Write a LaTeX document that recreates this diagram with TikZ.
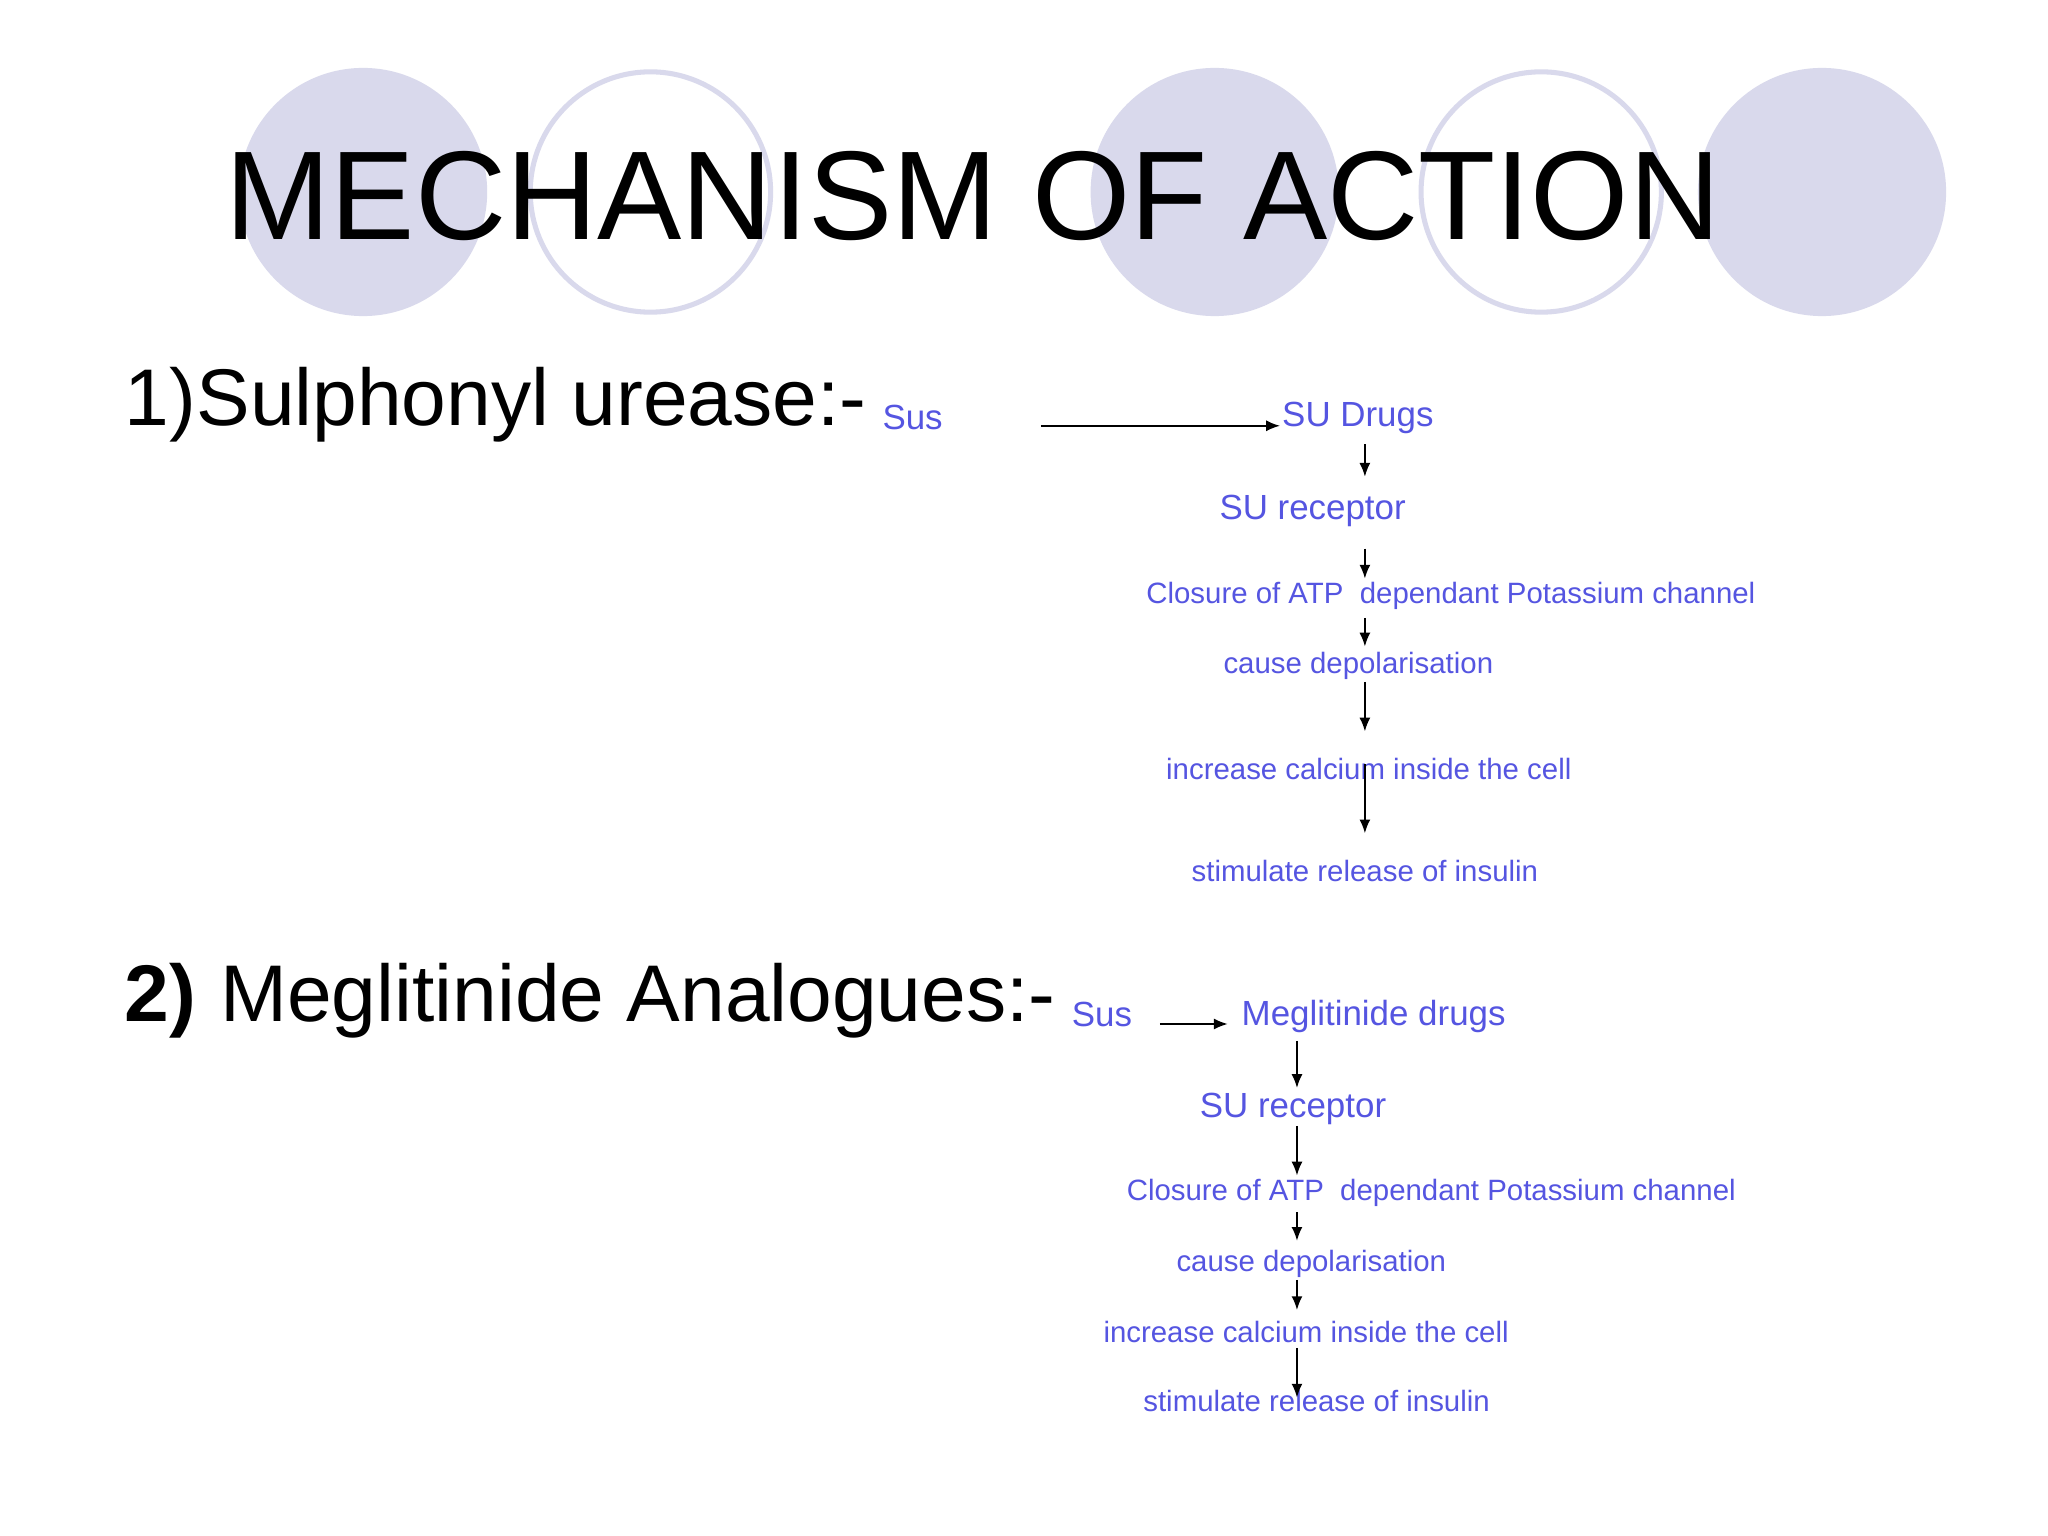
\documentclass[tikz,border=0pt]{standalone}
\usepackage{fontspec}
\setmainfont{Liberation Sans}
\definecolor{lav}{RGB}{217,217,236}
\definecolor{bl}{RGB}{85,85,225}
\begin{document}
\begin{tikzpicture}[x=0.01cm,y=-0.01cm,
  bt/.style={text=bl,font=\fontsize{6.4}{7}\selectfont,inner sep=0pt},
  bt2/.style={text=bl,font=\fontsize{7.6}{8}\selectfont,inner sep=0pt},
  arr/.style={-{Latex[length=3pt,width=2.4pt]},line width=0.4pt}]
\usetikzlibrary{arrows.meta}
\useasboundingbox[fill=white] (0,0) rectangle (1568,1176);
\foreach \x in {278,930,1395} \fill[lav] (\x,147) circle (95);
\foreach \x in {498,1180} \draw[lav,line width=1.1pt] (\x,147) circle (92);
\node[font=\fontsize{27.5}{30}\selectfont,inner sep=0pt] (title) at (745,150) {MECHANISM OF ACTION};
\node[anchor=west,font=\fontsize{17.5}{20}\selectfont,inner sep=0pt] (h1) at (95,310) {1)Sulphonyl urease:-};
\node[bt2,anchor=west] (sus1) at (675,320) {Sus};
\node[bt2,anchor=west] (a1) at (981,320) {SU Drugs};
\node[bt2] (a2) at (1005,391) {SU receptor};
\node[bt,anchor=west] (a3) at (877,456) {Closure of ATP\ \ dependant Potassium channel};
\node[bt] (a4) at (1040,510) {cause depolarisation};
\node[bt] (a5) at (1048,589) {increase calcium inside the cell};
\node[bt] (a6) at (1045,667) {stimulate release of insulin};
\coordinate (s0) at (797,326); \coordinate (s1) at (980,326);
\draw[arr] (s0) -- (s1);
\foreach \i/\a/\b in {1/340/365,2/420/443,3/473/495,4/522/560,5/585/638}{
  \coordinate (p\i) at (1045,\a); \coordinate (q\i) at (1045,\b);
  \draw[arr] (p\i) -- (q\i);}
\node[anchor=west,font=\bfseries\fontsize{17.5}{20}\selectfont,inner sep=0pt] (h2a) at (95,766) {2)};
\node[anchor=west,font=\fontsize{17.5}{20}\selectfont,inner sep=0pt] (h2) at (168,766) {Meglitinide Analogues:-};
\node[bt2,anchor=west] (sus2) at (820,777) {Sus};
\node[bt2,anchor=west] (b1) at (950,778) {Meglitinide drugs};
\node[bt2] (b2) at (990,849) {SU receptor};
\node[bt,anchor=west] (b3) at (862,913) {Closure of ATP\ \ dependant Potassium channel};
\node[bt] (b4) at (1004,968) {cause depolarisation};
\node[bt] (b5) at (1000,1020) {increase calcium inside the cell};
\node[bt] (b6) at (1008,1073) {stimulate release of insulin};
\coordinate (t0) at (888,784); \coordinate (t1) at (940,784);
\draw[arr] (t0) -- (t1);
\foreach \i/\a/\b in {1/797/833,2/862/900,3/928/950,4/980/1003,5/1032/1070}{
  \coordinate (u\i) at (993,\a); \coordinate (v\i) at (993,\b);
  \draw[arr] (u\i) -- (v\i);}
\end{tikzpicture}
\end{document}
